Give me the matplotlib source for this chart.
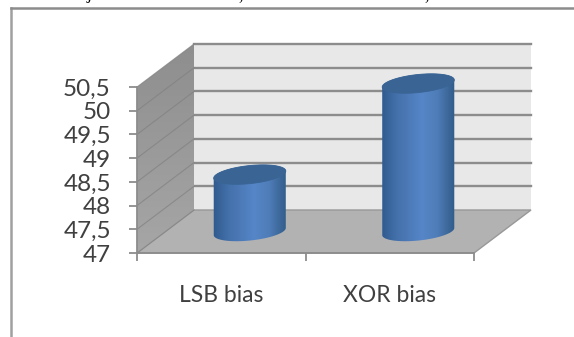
import numpy as np
import matplotlib
matplotlib.use('Agg')
import matplotlib.pyplot as plt
from matplotlib.colors import LinearSegmentedColormap
from matplotlib.lines import Line2D
from matplotlib.patches import Polygon, PathPatch
from matplotlib.path import Path
from matplotlib.transforms import Affine2D, IdentityTransform

categories = ['LSB bias', 'XOR bias']
values = [48.2, 50.12]
ticks = [47, 47.5, 48, 48.5, 49, 49.5, 50, 50.5]
tick_labels = ['47', '47,5', '48', '48,5', '49', '49,5', '50', '50,5']

W, H = 574, 337
plt.rcParams['font.family'] = ['Lato', 'DejaVu Sans']

fig = plt.figure(figsize=(W / 100, H / 100), dpi=100)
ax = fig.add_axes([137 / W, 1 - 253 / H, 337 / W, 166 / H])
ax.set_xlim(0, 2)
ax.set_ylim(47, 50.5)

# depth of the fake 3d box, in pixels
dx, dy = 57, 43
back = ax.transData + Affine2D().translate(dx, dy)
mid = ax.transData + Affine2D().translate(dx / 2, dy / 2)

x0, x1 = 0, 2
y0, y1 = ticks[0], ticks[-1]


def to_px(tr, x, y):
    return tr.transform((x, y))


# walls and floor
fl, fr = to_px(ax.transData, x0, y0), to_px(ax.transData, x1, y0)
bl, br = to_px(back, x0, y0), to_px(back, x1, y0)
tl, tr_ = to_px(back, x0, y1), to_px(back, x1, y1)
fu = to_px(ax.transData, x0, y1)
px = IdentityTransform()

fig.add_artist(Polygon([bl, br, tr_, tl], closed=True, fc='#e8e8e8', ec='none', transform=px, zorder=1))
fig.add_artist(Polygon([fl, fr, br, bl], closed=True, fc='#b2b2b2', ec='#989898', lw=1, transform=px, zorder=2))

side_cmap = LinearSegmentedColormap.from_list('side', ['#a6a6a6', '#8e8e8e'])
ax_bg = fig.add_axes([0, 0, 1, 1], zorder=4)
ax_bg.axis('off')
ax_bg.patch.set_alpha(0)
im = ax_bg.imshow(np.linspace(0, 1, 64).reshape(-1, 1), cmap=side_cmap, aspect='auto',
                  extent=(fl[0], bl[0], fl[1], tl[1]), origin='lower', zorder=3)
im.set_clip_path(Polygon([fl, bl, tl, fu], closed=True, transform=px))

# gridlines, back wall plus the part running over the side wall
for v in ticks:
    a = to_px(ax.transData, x0, v)
    b = to_px(back, x0, v)
    c = to_px(back, x1, v)
    if v != ticks[0]:
        fig.add_artist(Line2D([b[0], c[0]], [b[1], c[1]], color='#8c8c8c', lw=1.7, transform=px, zorder=3))
    fig.add_artist(Line2D([a[0], b[0]], [a[1], b[1]], color='#808080', lw=0.8, alpha=0.7, transform=px, zorder=4.5))

# axis lines
ax.patch.set_alpha(0)
ax.set_zorder(5)
for name in ['top', 'right']:
    ax.spines[name].set_visible(False)
ax.spines['left'].set_color('#8c8c8c')
ax.spines['bottom'].set_color('#8c8c8c')
ax.spines['left'].set_linewidth(1.3)
ax.spines['bottom'].set_linewidth(1.3)
ax.set_yticks(ticks)
ax.set_yticklabels(tick_labels, fontsize=17.5, color='#404040')
ax.set_xticks([0, 1, 2])
ax.set_xticklabels([])
ax.tick_params(axis='both', length=5.8, width=1.3, color='#8c8c8c')
ax.tick_params(axis='y', pad=13)
for pos, name in zip([0.5, 1.5], categories):
    ax.annotate(name, (pos, 47), xytext=(0, -43), xycoords='data', textcoords='offset pixels',
                ha='center', va='center', fontsize=16.5, color='#404040')

# cylinders
bar_w = 0.43
tilt = np.radians(6)
semi_b = 9.0
theta = np.linspace(0, 2 * np.pi, 120)
body_cmap = LinearSegmentedColormap.from_list(
    'body', [(0, '#2f5a8e'), (0.2, '#4470aa'), (0.55, '#5686c8'), (0.75, '#4f7db9'), (0.9, '#3c6899'), (1, '#2f5a8a')])
grad = np.linspace(0, 1, 128).reshape(1, -1)

for i, val in enumerate(values):
    pos = i + 0.5
    bot = to_px(mid, pos, 47)
    top = to_px(mid, pos, val)
    a_px = to_px(mid, pos + bar_w / 2, 47)[0] - bot[0]

    ex = a_px * np.cos(theta)
    ey = semi_b * np.sin(theta)
    rx = ex * np.cos(tilt) - ey * np.sin(tilt)
    ry = ex * np.sin(tilt) + ey * np.cos(tilt)

    # body outline: lower half of the base ellipse then upper half of the top ellipse
    low = np.column_stack([bot[0] + rx[60:120], bot[1] + ry[60:120]])
    up = np.column_stack([top[0] + rx[0:60], top[1] + ry[0:60]])
    outline = np.vstack([low, up])
    clip = Polygon(outline, closed=True, transform=px)

    im = ax_bg.imshow(grad, cmap=body_cmap, aspect='auto', zorder=6,
                      extent=(bot[0] - a_px - 1, bot[0] + a_px + 1, bot[1] - 15, top[1] + 15))
    im.set_clip_path(clip)

    cap = Path(np.column_stack([top[0] + rx, top[1] + ry]), closed=True)
    fig.add_artist(PathPatch(cap, fc='#3a6494', ec='#3a6494', lw=0.6, transform=px, zorder=7))

ax_bg.set_xlim(0, W)
ax_bg.set_ylim(0, H)

# outer frame, cut off by the page
fig.add_artist(Line2D([11 / W, 11 / W], [0, 1 - 8 / H], color='#a0a0a0', lw=1.8))
fig.add_artist(Line2D([11 / W, 1], [1 - 8 / H, 1 - 8 / H], color='#8c8c8c', lw=1.8))

# bits of the text line above, only the descenders are still in view
for xp, s in zip([89, 241, 427], ['j', ',', ',']):
    fig.text(xp / W, 1 + 1 / H, s, family='Liberation Serif', fontsize=13, color='black',
             ha='center', va='baseline')

fig.savefig('out.png', dpi=100)
